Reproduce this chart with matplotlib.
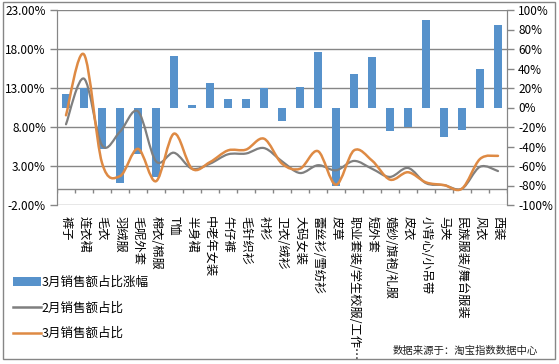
import numpy as np
import matplotlib
matplotlib.use('Agg')
import matplotlib.pyplot as plt
from matplotlib.path import Path
from matplotlib.patches import PathPatch, Patch, Rectangle
from matplotlib.lines import Line2D

plt.rcParams['font.family'] = ['Noto Sans CJK SC', 'DejaVu Sans']

# --- dati ---
categories = ['裤子', '连衣裙', '毛衣', '羽绒服', '毛呢外套', '棉衣/棉服', 'T恤', '半身裙',
              '中老年女装', '牛仔裤', '毛针织衫', '衬衫', '卫衣/绒衫', '大码女装',
              '蕾丝衫/雪纺衫', '皮草', '职业套装/学生校服/工作…', '短外套', '婚纱/旗袍/礼服',
              '皮衣', '小背心/小吊带', '马夹', '民族服装/舞台服装', '风衣', '西装']
change_mar = [14, 20, -43, -77, -48, -71, 53, 3, 25, 9, 9, 20, -14, 21.5, 57, -80,
              34, 52, -24, -20, 90, -30, -23, 40, 85]
share_feb = [8.35, 14.2, 5.65, 7.4, 10.0, 3.6, 4.7, 2.65, 3.3, 4.5, 4.6, 5.3, 3.6, 2.1,
             3.1, 2.45, 3.65, 2.65, 1.6, 2.75, 0.8, 0.55, 0.1, 2.9, 2.35]
share_mar = [9.5, 17.3, 3.4, 1.7, 5.2, 1.05, 7.15, 2.65, 3.5, 5.0, 5.1, 6.5, 3.3, 2.65,
             4.9, 0.6, 5.0, 3.7, 1.25, 2.2, 0.9, 0.55, 0.1, 3.9, 4.3]
left_ticks = [-2, 3, 8, 13, 18, 23]
right_ticks = [-100, -80, -60, -40, -20, 0, 20, 40, 60, 80, 100]

BLUE = '#5792CB'
GRAY = '#7F7F7F'
ORANGE = '#DE8A44'
AXC = '#868686'

W, H = 559, 364
fig = plt.figure(figsize=(W / 100, H / 100), dpi=100)

# bordo dell'area grafico
fig.patches.append(Rectangle((3 / W, 1 - 359 / H), 552 / W, 357 / H, transform=fig.transFigure,
                             fill=False, edgecolor=AXC, linewidth=1))

ax = fig.add_axes([57 / W, 1 - 205 / H, 450 / W, 195 / H])
ax2 = ax.twinx()

x = np.arange(len(categories))
ax.set_xlim(-0.5, len(categories) - 0.5)
ax.set_ylim(-100, 100)
ax2.set_ylim(-2, 23)


def to_right(v):
    return (v + 2) / 25 * 200 - 100


# griglia (allineata ai tick di sinistra)
for t in left_ticks:
    ax.axhline(to_right(t), color=AXC, linewidth=1, zorder=0)

ax.bar(x, change_mar, width=0.42, color=BLUE, zorder=2)

# asse delle categorie a quota 0% (asse sinistro)
y0 = to_right(0)
ax.axhline(y0, color=AXC, linewidth=1, zorder=1)
ax.vlines(np.arange(-0.5, len(categories)), y0 - 4, y0, color=AXC, linewidth=1, zorder=1)


def smooth_path(xs, ys):
    pts = np.column_stack([xs, ys])
    n = len(pts)
    verts = [pts[0]]
    codes = [Path.MOVETO]
    for i in range(n - 1):
        p0 = pts[max(i - 1, 0)]
        p1 = pts[i]
        p2 = pts[i + 1]
        p3 = pts[min(i + 2, n - 1)]
        c1 = p1 + (p2 - p0) / 6
        c2 = p2 - (p3 - p1) / 6
        verts += [c1, c2, p2]
        codes += [Path.CURVE4] * 3
    return Path(verts, codes)


ax2.add_patch(PathPatch(smooth_path(x, share_feb), fill=False, edgecolor=GRAY,
                        linewidth=1.6, capstyle='round', joinstyle='round'))
ax2.add_patch(PathPatch(smooth_path(x, share_mar), fill=False, edgecolor=ORANGE,
                        linewidth=1.8, capstyle='round', joinstyle='round'))

# assi
ax.yaxis.tick_right()
ax.set_yticks(right_ticks)
ax.set_yticklabels([f'{t}%' for t in right_ticks], fontsize=8.5)
ax2.yaxis.tick_left()
ax2.set_yticks(left_ticks)
ax2.set_yticklabels([f'{t:.2f}%' for t in left_ticks], fontsize=8.5)
for a in (ax, ax2):
    a.tick_params(axis='y', length=5, color=AXC, width=1, pad=3)
    for s in ['top', 'bottom']:
        a.spines[s].set_visible(False)
    a.spines['left'].set_color(AXC)
    a.spines['right'].set_color(AXC)

ax.set_xticks(x)
ax.set_xticklabels(categories, rotation=-90, fontsize=8.8, va='top', ha='center',
                   rotation_mode='default')
ax.tick_params(axis='x', length=0, pad=8)
ax2.tick_params(axis='x', length=0)

handles = [Patch(facecolor=BLUE, edgecolor='none'),
           Line2D([], [], color=GRAY, linewidth=1.8),
           Line2D([], [], color=ORANGE, linewidth=1.8)]
labels = ['3月销售额占比涨幅', '2月销售额占比', '3月销售额占比']
fig.legend(handles, labels, loc='upper left', bbox_to_anchor=(8 / W, 1 - 271 / H),
           frameon=False, fontsize=9, handlelength=2.2, handletextpad=0.1,
           labelspacing=1.0, borderaxespad=0)

fig.text(393 / W, 1 - 351 / H, '数据来源于：淘宝指数数据中心', fontsize=7.5,
         va='center', ha='left', color='#222222')

fig.savefig('out.png', dpi=100)
